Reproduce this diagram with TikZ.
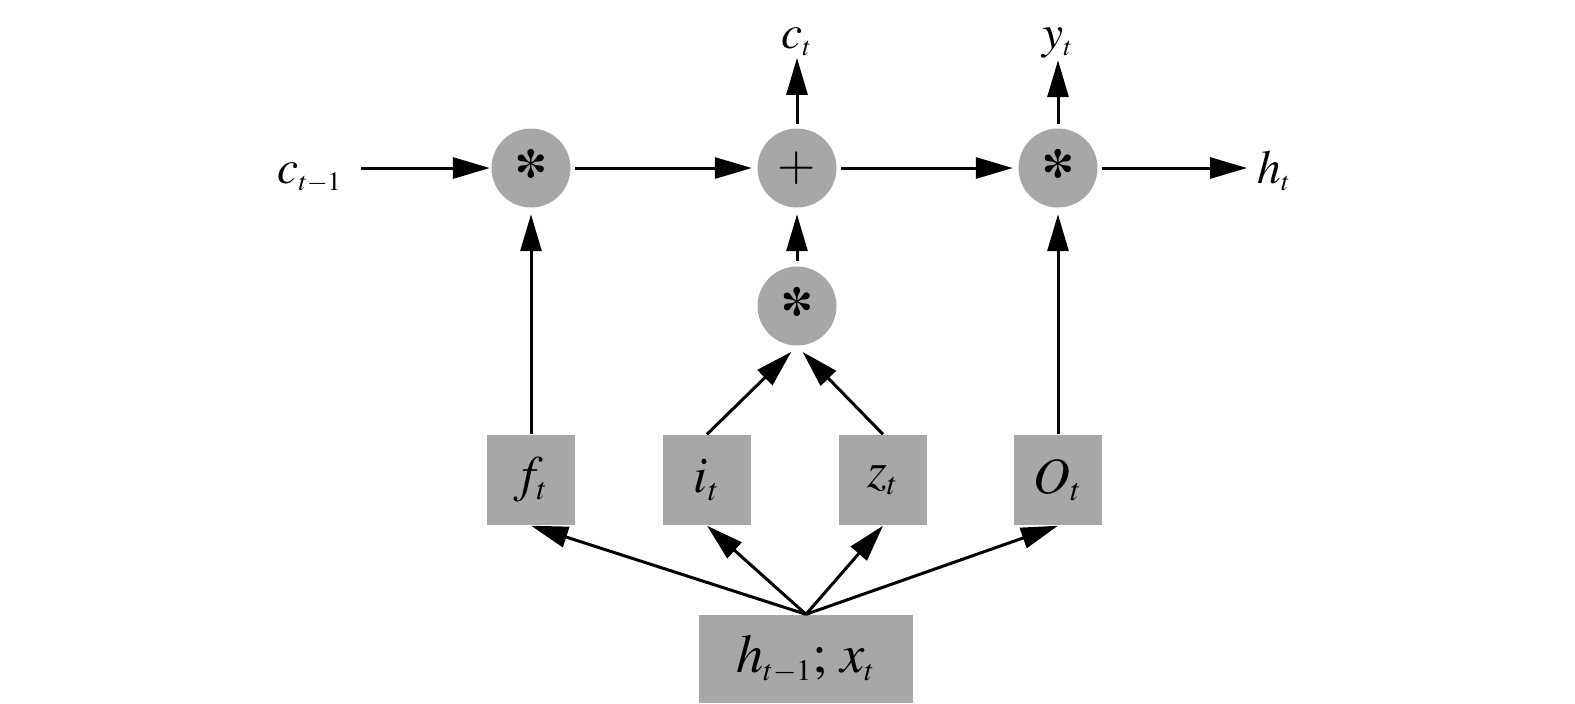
\documentclass[tikz,border=0pt]{standalone}
\usepackage{mathptmx}
\usetikzlibrary{arrows.meta}
\definecolor{cellgray}{RGB}{168,167,168}
\DeclareMathSizes{13.5}{13.5}{7.5}{6}
\DeclareMathSizes{14.5}{14.5}{9}{7}
\DeclareMathSizes{15.5}{15.5}{8.5}{7}
\newcommand\tmsast{\smash{\raisebox{-0.55em}{\fontencoding{OT1}\fontfamily{ptm}\fontseries{b}\fontsize{19}{19}\selectfont *}}}

\begin{document}
\begin{tikzpicture}[
  op/.style={circle, fill=cellgray, minimum size=0.79cm, inner sep=0pt, font=\fontsize{14}{16}\selectfont},
  gatebox/.style={rectangle, fill=cellgray, minimum width=0.88cm, minimum height=0.90cm, inner sep=0pt, font=\fontsize{14.5}{16}\selectfont},
  lbl/.style={inner sep=0.5pt, font=\fontsize{13.5}{16}\selectfont},
  flow/.style={-{Triangle[length=0.37cm, width=0.21cm]}, line width=0.03cm},
]
\useasboundingbox (0,0) rectangle (15.75,-7.03);

\node [op] (m1) at (5.31,-1.68) {\tmsast};
\node [op] (a1) at (7.97,-1.68) {$+$};
\node [op] (m2) at (10.58,-1.68) {\tmsast};
\node [op] (m3) at (7.97,-3.06) {\tmsast};

\node [gatebox] (f) at (5.31,-4.80) {$f_t$};
\node [gatebox] (i) at (7.07,-4.80) {$i_t$};
\node [gatebox] (z) at (8.83,-4.80) {$z_t$};
\node [gatebox] (o) at (10.58,-4.80) {$O_t$};
\node [gatebox, minimum width=2.14cm, minimum height=0.88cm, font=\fontsize{15.5}{18}\selectfont] (hx) at (8.06,-6.59) {$h_{t-1};\,x_t$};

\node [lbl, anchor=base east] (cprev) at (3.45,-1.83) {$c_{t-1}$};
\node [lbl, anchor=base] (ct) at (7.97,-0.48) {$c_t$};
\node [lbl, anchor=base] (yt) at (10.58,-0.48) {$y_t$};
\node [lbl, anchor=base west] (ht) at (12.55,-1.83) {$h_t$};

\draw [flow, shorten <=0.16cm, shorten >=0.01cm] (cprev.east |- m1) -- (m1);
\draw [flow, shorten <=0.04cm, shorten >=0.05cm] (m1) -- (a1);
\draw [flow, shorten <=0.04cm, shorten >=0.05cm] (a1) -- (m2);
\draw [flow, shorten <=0.04cm, shorten >=0.08cm] (m2) -- (ht.west |- m2);
\draw [flow, shorten <=0.04cm] (a1) -- (ct);
\draw [flow, shorten <=0.04cm] (m2) -- (yt);
\draw [flow, shorten <=0.05cm, shorten >=0.06cm] (m3) -- (a1);
\draw [flow, shorten >=0.06cm] (f) -- (m1);
\draw [flow, shorten >=0.06cm] (o) -- (m2);
\draw [flow, shorten >=0.08cm] (i.north) -- (m3.south);
\draw [flow, shorten >=0.08cm] (z.north) -- (m3.south);
\foreach \g in {f,i,z,o} \draw [flow] (hx.north) -- (\g.south);
\end{tikzpicture}
\end{document}
